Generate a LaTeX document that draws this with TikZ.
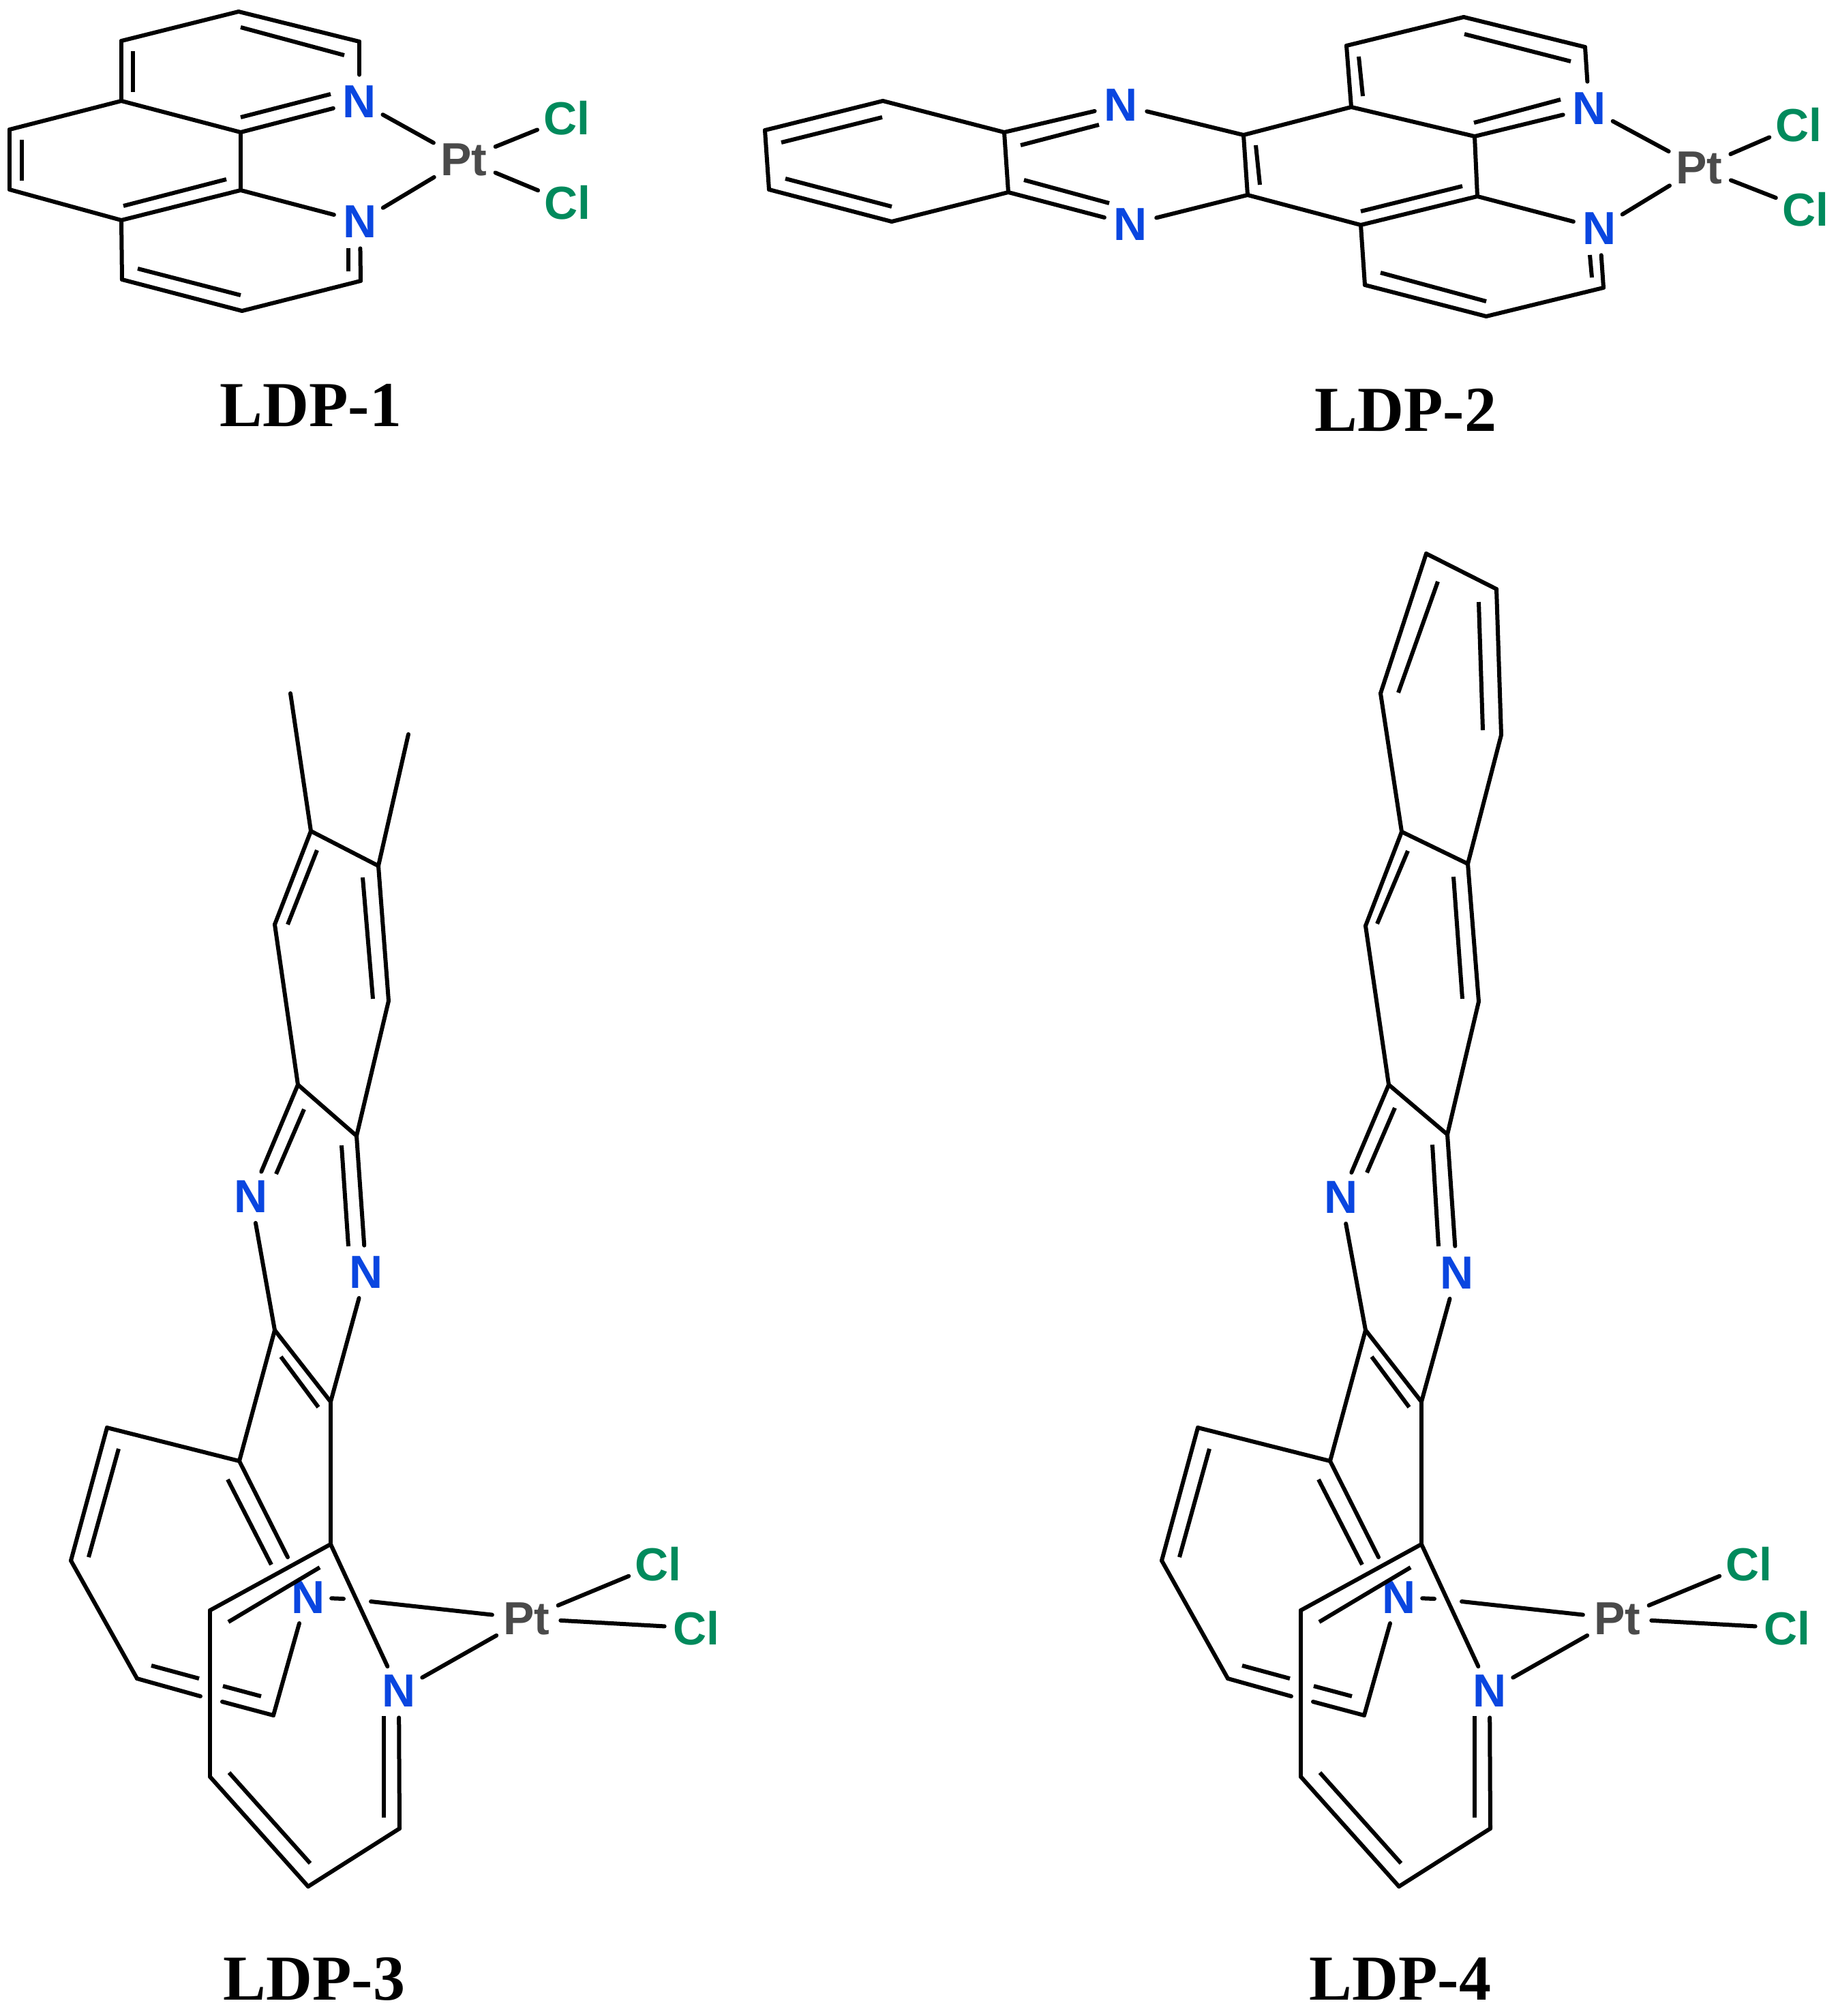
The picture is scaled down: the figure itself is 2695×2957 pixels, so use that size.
\documentclass[tikz,border=0pt]{standalone}
\usepackage{fontspec}
\newfontfamily\atomfont{Liberation Sans}
\newfontfamily\capfont{Liberation Serif}
\definecolor{nblue}{HTML}{0A46E0}
\definecolor{clgreen}{HTML}{008A5C}
\definecolor{ptgrey}{HTML}{4A4A4A}
\tikzset{
  bond/.style={draw=black,line width=3pt,line cap=round,line join=round},
  innerbond/.style={draw=black,line width=3pt,line cap=butt},
  atom/.style={circle,inner sep=0pt,font=\atomfont\fontsize{34}{38}\selectfont\bfseries},
  natom/.style={atom,text=nblue,minimum size=39pt},
  nsmall/.style={atom,text=nblue,minimum size=33pt},
  ptatom/.style={atom,text=ptgrey,minimum size=50pt},
  clatom/.style={atom,text=clgreen,minimum size=46pt},
  caption/.style={anchor=base,inner sep=0pt,font=\capfont\fontsize{47}{50}\selectfont\bfseries,text=black}
}
\newcommand\inl[3]{\coordinate (#1a) at (#2); \coordinate (#1b) at (#3); \draw[innerbond] (#1a) -- (#1b);}
\newcommand\bonds[1]{\foreach \p/\q in {#1} {\draw[bond] (\p) -- (\q);}}
\newcommand\lowerpart[1]{%
  \coordinate (#1g) at (403,1951);
  \coordinate (#1h) at (485,2056);
  \coordinate (#1i) at (351,2143);
  \coordinate (#1j) at (157,2094);
  \coordinate (#1k) at (104,2289);
  \coordinate (#1l) at (201,2462);
  \coordinate (#1m) at (401,2516);
  \coordinate (#1n) at (485,2265);
  \coordinate (#1o) at (308,2362);
  \coordinate (#1p) at (308,2606);
  \coordinate (#1q) at (452,2767);
  \coordinate (#1r) at (586,2682);
  \node[nsmall] (#1N) at (452,2343) {N};
  \node[natom] (#1M) at (585,2480) {N};
  \node[ptatom] (#1Pt) at (772,2374) {Pt};
  \node[clatom] (#1Cla) at (965,2294) {Cl};
  \node[clatom] (#1Clb) at (1021,2388) {Cl};
  \coordinate (#1e1) at (422,2284);
  \coordinate (#1e2) at (439,2381);
  \coordinate (#1e3) at (294,2488);
  \coordinate (#1e4) at (326,2496);
  \coordinate (#1e5) at (504,2345);
  \coordinate (#1e6) at (544,2349);
  \bonds{#1g/#1h,#1g/#1i,#1i/#1j,#1j/#1k,#1k/#1l,#1l/#1e3,#1e4/#1m,#1m/#1e2,#1i/#1e1,%
    #1h/#1n,#1n/#1o,#1n/#1M,#1o/#1p,#1p/#1q,#1q/#1r,#1r/#1M,#1N/#1e5,#1e6/#1Pt,#1M/#1Pt,#1Pt/#1Cla,#1Pt/#1Clb}
  \inl{#1ia}{412,1990}{467,2064}
  \inl{#1ib}{174,2125}{130,2284}
  \inl{#1ic}{334,2170}{398,2295}
  \inl{#1id}{222,2443}{292,2462}
  \inl{#1ie}{327,2473}{383,2488}
  \inl{#1if}{469,2299}{335,2379}
  \inl{#1ig}{336,2600}{455,2733}
  \inl{#1ih}{563,2666}{563,2517}
}
\begin{document}
\begin{tikzpicture}[x=0.5pt,y=-0.5pt]
\path[use as bounding box,fill=white] (0,0) rectangle (2695,2957);

% ---------- LDP-1
\coordinate (a1) at (350,17);
\coordinate (b1) at (527,61);
\coordinate (c1) at (353,194);
\coordinate (d1) at (178,148);
\coordinate (e1) at (178,60);
\coordinate (f1) at (14,190);
\coordinate (g1) at (14,278);
\coordinate (h1) at (178,323);
\coordinate (i1) at (353,279);
\coordinate (j1) at (529,412);
\coordinate (k1) at (355,456);
\coordinate (l1) at (179,410);
\node[natom] (Na1) at (527,149) {N};
\node[natom] (Nb1) at (528,325) {N};
\node[ptatom] (Pt1) at (680,234) {Pt};
\node[clatom] (Cla1) at (831,173) {Cl};
\node[clatom] (Clb1) at (832,297) {Cl};
\bonds{e1/a1,a1/b1,b1/Na1,Na1/c1,c1/d1,d1/e1,d1/f1,f1/g1,g1/h1,h1/i1,i1/c1,i1/Nb1,Nb1/j1,j1/k1,k1/l1,l1/h1,Na1/Pt1,Nb1/Pt1,Pt1/Cla1,Pt1/Clb1}
\inl{p1}{353,40}{505,81}
\inl{p2}{195,75}{195,135}
\inl{p3}{353,172}{485,138}
\inl{p4}{32,205}{32,265}
\inl{p5}{181,302}{332,263}
\inl{p6}{202,394}{353,433}
\inl{p7}{511,398}{511,364}
\node[caption] (cap1) at (456,625) {LDP-1};

% ---------- LDP-2
\coordinate (A2) at (1295,148);
\coordinate (B2) at (1473,194);
\coordinate (C2) at (1824,198);
\coordinate (D2) at (1982,157);
\coordinate (E2) at (1830,286);
\coordinate (F2) at (1479,282);
\coordinate (G2) at (1308,325);
\coordinate (H2) at (1128,278);
\coordinate (I2) at (1122,191);
\coordinate (J2) at (1996,330);
\coordinate (K2) at (1975,67);
\coordinate (L2) at (2147,25);
\coordinate (M2) at (2325,69);
\coordinate (O2) at (2163,200);
\coordinate (P2) at (2167,288);
\coordinate (Q2) at (2352,422);
\coordinate (R2) at (2180,464);
\coordinate (S2) at (2002,418);
\node[natom] (Nc2) at (1644,154) {N};
\node[natom] (Nd2) at (1658,329) {N};
\node[natom] (Na2) at (2331,159) {N};
\node[natom] (Nb2) at (2346,335) {N};
\node[ptatom] (Pt2) at (2492,246) {Pt};
\node[clatom] (Cla2) at (2638,183) {Cl};
\node[clatom] (Clb2) at (2648,307) {Cl};
\bonds{I2/A2,A2/B2,B2/Nc2,Nc2/C2,C2/D2,C2/E2,E2/Nd2,Nd2/F2,F2/B2,F2/G2,G2/H2,H2/I2,D2/K2,K2/L2,L2/M2,M2/Na2,Na2/O2,O2/D2,O2/P2,P2/J2,J2/E2,J2/S2,S2/R2,R2/Q2,Q2/Nb2,P2/Nb2,Na2/Pt2,Nb2/Pt2,Pt2/Cla2,Pt2/Clb2}
\inl{q1}{1146,209}{1294,172}
\inl{q2}{1152,262}{1308,303}
\inl{q3}{1497,213}{1612,183}
\inl{q4}{1502,264}{1627,298}
\inl{q5}{1842,213}{1848,271}
\inl{q6}{1993,83}{1999,141}
\inl{q7}{2148,50}{2304,90}
\inl{q8}{2162,180}{2289,146}
\inl{q9}{1996,310}{2145,273}
\inl{q10}{2025,400}{2180,442}
\inl{q11}{2335,407}{2332,374}
\node[caption] (cap2) at (2062,632) {LDP-2};

% ---------- LDP-3
\coordinate (me13) at (426,1017);
\coordinate (me23) at (599,1077);
\coordinate (a3) at (456,1219);
\coordinate (b3) at (555,1270);
\coordinate (c3) at (570,1468);
\coordinate (d3) at (523,1666);
\coordinate (e3) at (437,1591);
\coordinate (f3) at (403,1356);
\node[natom] (Nl3) at (368,1755) {N};
\node[natom] (Nr3) at (537,1866) {N};
\lowerpart{x}
\bonds{me13/a3,me23/b3,a3/b3,b3/c3,c3/d3,d3/e3,e3/f3,f3/a3,e3/Nl3,d3/Nr3,Nl3/xg,Nr3/xh}
\inl{r1}{465,1247}{422,1356}
\inl{r2}{532,1287}{547,1465}
\inl{r3}{446,1627}{405,1722}
\inl{r4}{501,1680}{511,1828}
\node[caption] (cap3) at (461,2933) {LDP-3};

% ---------- LDP-4
\coordinate (t4) at (2092,812);
\coordinate (u4) at (2195,864);
\coordinate (v4) at (2202,1078);
\coordinate (w4) at (2153,1267);
\coordinate (x4) at (2056,1220);
\coordinate (y4) at (2025,1017);
\coordinate (z4) at (2169,1469);
\coordinate (aa4) at (2003,1358);
\coordinate (bb4) at (2123,1664);
\coordinate (cc4) at (2037,1591);
\node[natom] (Nl4) at (1967,1756) {N};
\node[natom] (Nr4) at (2137,1867) {N};
\begin{scope}[shift={(1600,0)}]
\lowerpart{y}
\end{scope}
\bonds{t4/u4,u4/v4,v4/w4,w4/x4,x4/y4,y4/t4,w4/z4,z4/bb4,bb4/cc4,cc4/aa4,aa4/x4,cc4/Nl4,bb4/Nr4,Nl4/yg,Nr4/yh}
\inl{s1}{2109,853}{2051,1016}
\inl{s2}{2169,883}{2175,1071}
\inl{s3}{2065,1248}{2020,1355}
\inl{s4}{2132,1286}{2145,1465}
\inl{s5}{2046,1625}{2005,1720}
\inl{s6}{2101,1679}{2110,1828}
\node[caption] (cap4) at (2054,2933) {LDP-4};
\end{tikzpicture}
\end{document}
